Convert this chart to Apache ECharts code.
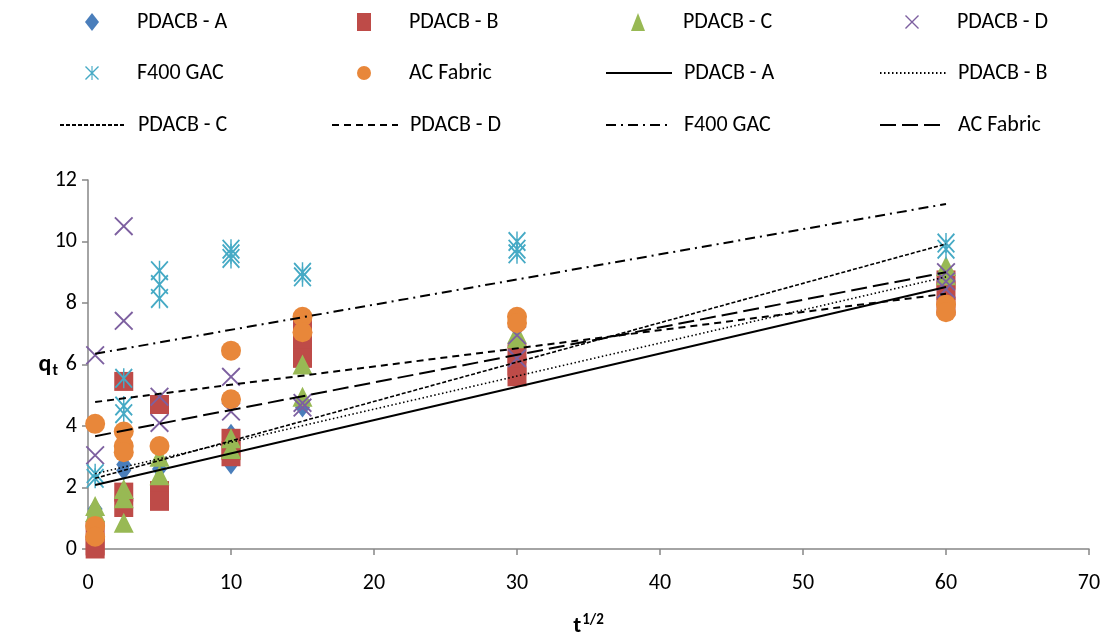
<!DOCTYPE html>
<html>
<head>
<meta charset="utf-8">
<script src="https://cdn.jsdelivr.net/npm/echarts@6/dist/echarts.min.js"></script>
<style>
  html, body { margin: 0; padding: 0; background: #ffffff; }
  #chart { width: 1110px; height: 641px; }
</style>
</head>
<body>
<div id="chart"></div>
<script>
// Measured uptake q_t against t^(1/2): replicate points per adsorbent, [x, y]
const pdacbA = [[0.5,1.3],[0.5,1.15],[2.5,2.75],[2.5,2.55],[5,2.85],[5,2.6],[10,3.75],[10,3.3],[10,2.75],[15,4.8],[15,4.6],[30,6.1],[30,5.8],[60,8.6],[60,8.45]];
const pdacbB = [[0.5,0.6],[0.5,0.1],[0.5,0.0],[2.5,5.45],[2.5,1.85],[2.5,1.35],[5,4.7],[5,1.9],[5,1.55],[10,3.6],[10,3.2],[10,3.0],[15,7.2],[15,6.6],[15,6.2],[30,6.35],[30,5.95],[30,5.6],[60,8.75],[60,8.4],[60,7.9]];
const pdacbC = [[0.5,1.4],[0.5,1.2],[2.5,1.95],[2.5,1.65],[2.5,0.85],[5,3.0],[5,2.4],[10,3.6],[10,3.25],[15,6.0],[15,4.95],[30,7.0],[30,6.85],[60,9.2],[60,8.9]];
const pdacbD = [[0.5,6.3],[0.5,3.05],[2.5,10.5],[2.5,7.42],[5,4.95],[5,4.1],[10,5.6],[10,4.47],[15,4.75],[15,4.6],[30,6.95],[30,6.2],[60,9.0],[60,8.7],[60,8.45]];
const f400Gac = [[0.5,2.45],[0.5,2.3],[2.5,5.55],[2.5,4.65],[2.5,4.4],[5,9.05],[5,8.6],[5,8.15],[10,9.75],[10,9.6],[10,9.45],[15,9.0],[15,8.85],[30,10.0],[30,9.75],[30,9.6],[60,9.95],[60,9.75]];
const acFabric = [[0.5,4.07],[0.5,0.75],[0.5,0.4],[2.5,3.82],[2.5,3.35],[2.5,3.15],[5,3.35],[10,6.45],[10,4.87],[15,7.55],[15,7.05],[30,7.55],[30,7.35],[60,7.95],[60,7.7]];

// Linear trend lines, end points [x, y]
const fitA = [[0.5,2.08],[60,8.52]];
const fitB = [[0.5,2.45],[60,8.85]];
const fitC = [[0.5,2.3],[60,9.92]];
const fitD = [[0.5,4.78],[60,8.3]];
const fitF400 = [[0.5,6.35],[60,11.22]];
const fitAC = [[0.5,3.67],[60,9.0]];

// Axis ranges
const xRange = [0, 70, 10];
const yRange = [0, 12, 2];

const FONT = "Carlito, Lato, sans-serif";
const FS = 22;
const AXIS_GREY = '#868686';

// Stroke-like marker outlines built from thin filled bars
const CROSS = 'path://M0,7L7,0L100,93L93,100ZM93,0L100,7L7,100L0,93Z';
const STAR = 'path://M0,7L7,0L100,93L93,100ZM93,0L100,7L7,100L0,93ZM46,0L54,0L54,100L46,100Z';

const scatterDefs = [
  { name: 'PDACB - A', data: pdacbA, color: '#4A7EBB', symbol: 'diamond', size: [15, 20] },
  { name: 'PDACB - B', data: pdacbB, color: '#BE4B48', symbol: 'rect', size: [19, 19] },
  { name: 'PDACB - C', data: pdacbC, color: '#98B954', symbol: 'triangle', size: [20, 20] },
  { name: 'PDACB - D', data: pdacbD, color: '#7D60A0', symbol: CROSS, size: [19, 19] },
  { name: 'F400 GAC', data: f400Gac, color: '#46AAC5', symbol: STAR, size: [18, 20] },
  { name: 'AC Fabric', data: acFabric, color: '#E8873A', symbol: 'circle', size: [20, 20] }
];

const fitDefs = [
  { name: 'PDACB - A', data: fitA, width: 2, type: 'solid' },
  { name: 'PDACB - B', data: fitB, width: 1.6, type: [1.5, 2.5] },
  { name: 'PDACB - C', data: fitC, width: 1.6, type: [4, 2] },
  { name: 'PDACB - D', data: fitD, width: 2, type: [7, 5] },
  { name: 'F400 GAC', data: fitF400, width: 2, type: [10, 5, 2, 5] },
  { name: 'AC Fabric', data: fitAC, width: 2, type: [16, 6] }
];

const FIT_SUFFIX = ' trend';

const series = [];
scatterDefs.forEach(d => {
  series.push({
    type: 'scatter',
    name: d.name,
    data: d.data,
    symbol: d.symbol,
    symbolSize: d.size,
    symbolKeepAspect: false,
    itemStyle: { color: d.color, opacity: 1 },
    z: 3
  });
});
fitDefs.forEach(d => {
  series.push({
    type: 'line',
    name: d.name + FIT_SUFFIX,
    data: d.data,
    symbol: 'none',
    itemStyle: { color: '#000000' },
    lineStyle: { color: '#000000', width: d.width, type: d.type },
    z: 4,
    silent: true
  });
});

// Legend: four columns, three rows
const colTextX = [137, 409, 683, 957];
const rowMid = [20, 71, 123];
const legendItems = [
  { series: 'PDACB - A', label: 'PDACB - A', marker: 0 },
  { series: 'PDACB - B', label: 'PDACB - B', marker: 1 },
  { series: 'PDACB - C', label: 'PDACB - C', marker: 2 },
  { series: 'PDACB - D', label: 'PDACB - D', marker: 3 },
  { series: 'F400 GAC', label: 'F400 GAC', marker: 4 },
  { series: 'AC Fabric', label: 'AC Fabric', marker: 5 },
  { series: 'PDACB - A' + FIT_SUFFIX, label: 'PDACB - A' },
  { series: 'PDACB - B' + FIT_SUFFIX, label: 'PDACB - B' },
  { series: 'PDACB - C' + FIT_SUFFIX, label: 'PDACB - C' },
  { series: 'PDACB - D' + FIT_SUFFIX, label: 'PDACB - D' },
  { series: 'F400 GAC' + FIT_SUFFIX, label: 'F400 GAC' },
  { series: 'AC Fabric' + FIT_SUFFIX, label: 'AC Fabric' }
];

const legends = legendItems.map((it, i) => {
  const col = i % 4, row = Math.floor(i / 4);
  const tx = colTextX[col];
  const base = {
    orient: 'horizontal',
    top: rowMid[row] - 9,
    padding: 0,
    itemHeight: 18,
    selectedMode: false,
    formatter: () => it.label
  };
  if (it.marker !== undefined) {
    const def = scatterDefs[it.marker];
    const w = 14;
    const left = tx - 45 - w / 2;
    return Object.assign(base, {
      left: left,
      itemWidth: w,
      data: [{ name: it.series, icon: def.symbol }],
      textStyle: { fontFamily: FONT, fontSize: FS, color: '#000', lineHeight: 18,
                   padding: [0, 0, 0, tx - left - w - 5] }
    });
  }
  const w = 66;
  const left = tx - 78;
  return Object.assign(base, {
    left: left,
    itemWidth: w,
    data: [{ name: it.series, itemStyle: { opacity: 0 } }],
    itemStyle: { opacity: 0 },
    textStyle: { fontFamily: FONT, fontSize: FS, color: '#000', lineHeight: 18,
                 padding: [0, 0, 0, tx - left - w - 5] }
  });
});

const chart = echarts.init(document.getElementById('chart'), null, { renderer: 'canvas' });
chart.setOption({
  animation: false,
  backgroundColor: '#ffffff',
  legend: legends,
  grid: { left: 88, right: 21, top: 180, bottom: 92, containLabel: false, outerBoundsMode: 'none' },
  xAxis: {
    type: 'value',
    min: xRange[0], max: xRange[1], interval: xRange[2],
    name: '{t|t}{s|1/2}',
    nameLocation: 'middle',
    nameMoveOverlap: false,
    nameGap: 64,
    nameTextStyle: {
      rich: {
        t: { fontFamily: FONT, fontSize: 23, fontWeight: 'bold', color: '#000' },
        s: { fontFamily: FONT, fontSize: 15, fontWeight: 'bold', color: '#000', padding: [0, 0, 12, 1] }
      }
    },
    axisLine: { show: true, onZero: false, lineStyle: { color: AXIS_GREY, width: 1.5 } },
    axisTick: { show: true, inside: false, length: 6, lineStyle: { color: AXIS_GREY, width: 1.5 } },
    splitLine: { show: false },
    axisLabel: { fontFamily: FONT, fontSize: FS, color: '#000', margin: 23 }
  },
  yAxis: {
    type: 'value',
    min: yRange[0], max: yRange[1], interval: yRange[2],
    name: '{q|q}{t|t}',
    nameLocation: 'middle',
    nameRotate: 0,
    nameMoveOverlap: false,
    nameGap: 30,
    nameTextStyle: {
      rich: {
        q: { fontFamily: FONT, fontSize: 24, fontWeight: 'bold', color: '#000' },
        t: { fontFamily: FONT, fontSize: 16, fontWeight: 'bold', color: '#000', padding: [12, 0, 0, 1] }
      }
    },
    axisLine: { show: true, onZero: false, lineStyle: { color: AXIS_GREY, width: 1.5 } },
    axisTick: { show: true, inside: false, length: 6, lineStyle: { color: AXIS_GREY, width: 1.5 } },
    splitLine: { show: false },
    axisLabel: { fontFamily: FONT, fontSize: FS, color: '#000', margin: 11 }
  },
  series: series
});
</script>
</body>
</html>
